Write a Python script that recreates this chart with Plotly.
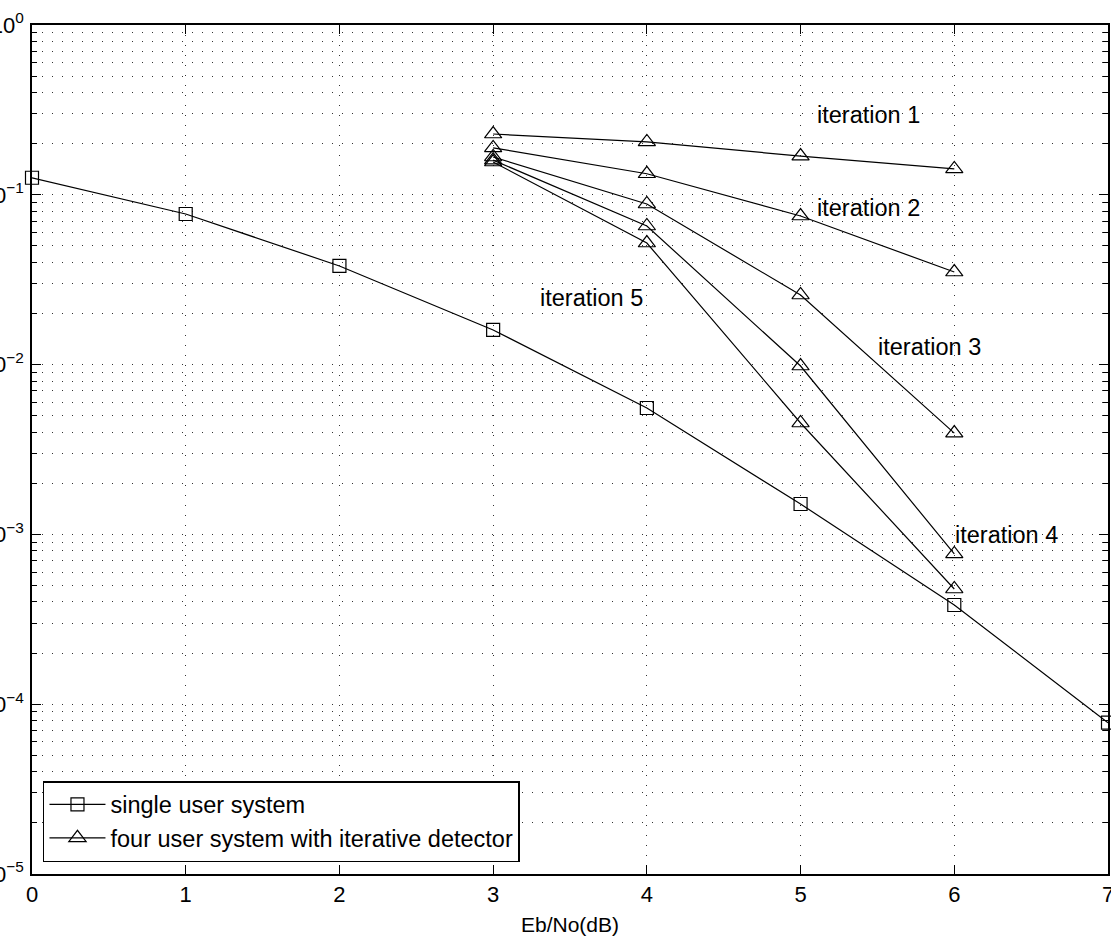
import math
import plotly.graph_objects as go

# ---- data ----
ebno_single = [0, 1, 2, 3, 4, 5, 6, 7]
ber_single = [0.126, 0.0771, 0.0381, 0.0160, 0.00555, 0.00151, 3.84e-4, 7.78e-5]

ebno_multi = [3, 4, 5, 6]
ber_iter1 = [0.228, 0.205, 0.169, 0.142]
ber_iter2 = [0.189, 0.133, 0.0750, 0.0351]
ber_iter3 = [0.167, 0.0883, 0.0257, 0.00395]
ber_iter4 = [0.160, 0.0655, 0.00981, 7.67e-4]
ber_iter5 = [0.156, 0.0520, 0.00453, 4.77e-4]

iteration_labels = ["iteration 1", "iteration 2", "iteration 3", "iteration 4", "iteration 5"]
legend_single = "single user system"
legend_multi = "four user system with iterative detector"

x_ticks = [0, 1, 2, 3, 4, 5, 6, 7]
y_decades = [0, -1, -2, -3, -4, -5]

FONT = "Liberation Sans, Arial, Helvetica, sans-serif"

fig = go.Figure()

fig.add_trace(go.Scatter(
    x=ebno_single, y=ber_single, mode="lines+markers", name=legend_single,
    line=dict(color="black", width=1.2),
    marker=dict(symbol="square-open", size=13, color="black", line=dict(width=1.2)),
    cliponaxis=False,
))

for i, ys in enumerate([ber_iter1, ber_iter2, ber_iter3, ber_iter4, ber_iter5]):
    fig.add_trace(go.Scatter(
        x=ebno_multi, y=ys, mode="lines+markers", name=legend_multi,
        legendgroup="multi", showlegend=(i == 0),
        line=dict(color="black", width=1.2),
        marker=dict(symbol="triangle-up-open", size=15, color="black", line=dict(width=1.2)),
    ))

# annotation positions (x in dB, y in BER)
ann_pos = [(5.44, 0.295), (5.44, 0.0836), (5.84, 0.0127), (6.34, 9.9e-4), (3.64, 0.0247)]
for lbl, (ax_, ay_) in zip(iteration_labels, ann_pos):
    fig.add_annotation(x=ax_, y=math.log10(ay_), text=lbl, showarrow=False,
                       font=dict(family=FONT, size=23.5, color="black"),
                       xanchor="center", yanchor="middle")

minor_vals = [m * 10 ** d for d in range(-5, 0) for m in range(2, 10)]
dotgrid = "1px,9px"
GRIDC = "#333333"

fig.update_xaxes(
    range=[0, 7], tickmode="array", tickvals=x_ticks, ticktext=[str(v) for v in x_ticks],
    showline=True, linecolor="black", linewidth=1.5, mirror="allticks",
    ticks="inside", ticklen=9, tickcolor="black", tickwidth=1.2,
    showgrid=True, gridcolor=GRIDC, gridwidth=1, griddash=dotgrid,
    zeroline=False, automargin=False, ticklabeloverflow="allow",
    tickfont=dict(family=FONT, size=22, color="black"),
    title=dict(text="Eb/No(dB)", font=dict(family=FONT, size=21, color="black"), standoff=11),
)

fig.update_yaxes(
    type="log", range=[-5, 0], tickmode="array",
    tickvals=[10 ** d for d in y_decades],
    ticktext=["10<sup>%s</sup>" % (str(d) if d >= 0 else "\u2212" + str(-d)) for d in y_decades],
    showline=True, linecolor="black", linewidth=1.5, mirror="allticks",
    ticks="inside", ticklen=9, tickcolor="black", tickwidth=1.2,
    showgrid=True, gridcolor=GRIDC, gridwidth=1, griddash=dotgrid,
    minor=dict(tickmode="array", tickvals=minor_vals, ticks="inside", ticklen=5,
               tickcolor="black", showgrid=True, gridcolor=GRIDC, gridwidth=1,
               griddash=dotgrid),
    zeroline=False, automargin=False, ticklabelstandoff=2, ticklabeloverflow="allow",
    tickfont=dict(family=FONT, size=22, color="black"),
)

fig.update_layout(
    width=1111, height=937,
    margin=dict(l=32, r=3, t=25, b=63),
    paper_bgcolor="white", plot_bgcolor="white",
    font=dict(family=FONT, size=22, color="black"),
    showlegend=True,
    legend=dict(x=0.0102, y=0.0141, xanchor="left", yanchor="bottom",
                bgcolor="white", bordercolor="black", borderwidth=1.5,
                font=dict(family=FONT, size=23.5, color="black"),
                tracegroupgap=0, itemwidth=56),
)

fig.write_html("out.html", config={"displayModeBar": False},
               post_script="document.body.style.margin='0px';")
